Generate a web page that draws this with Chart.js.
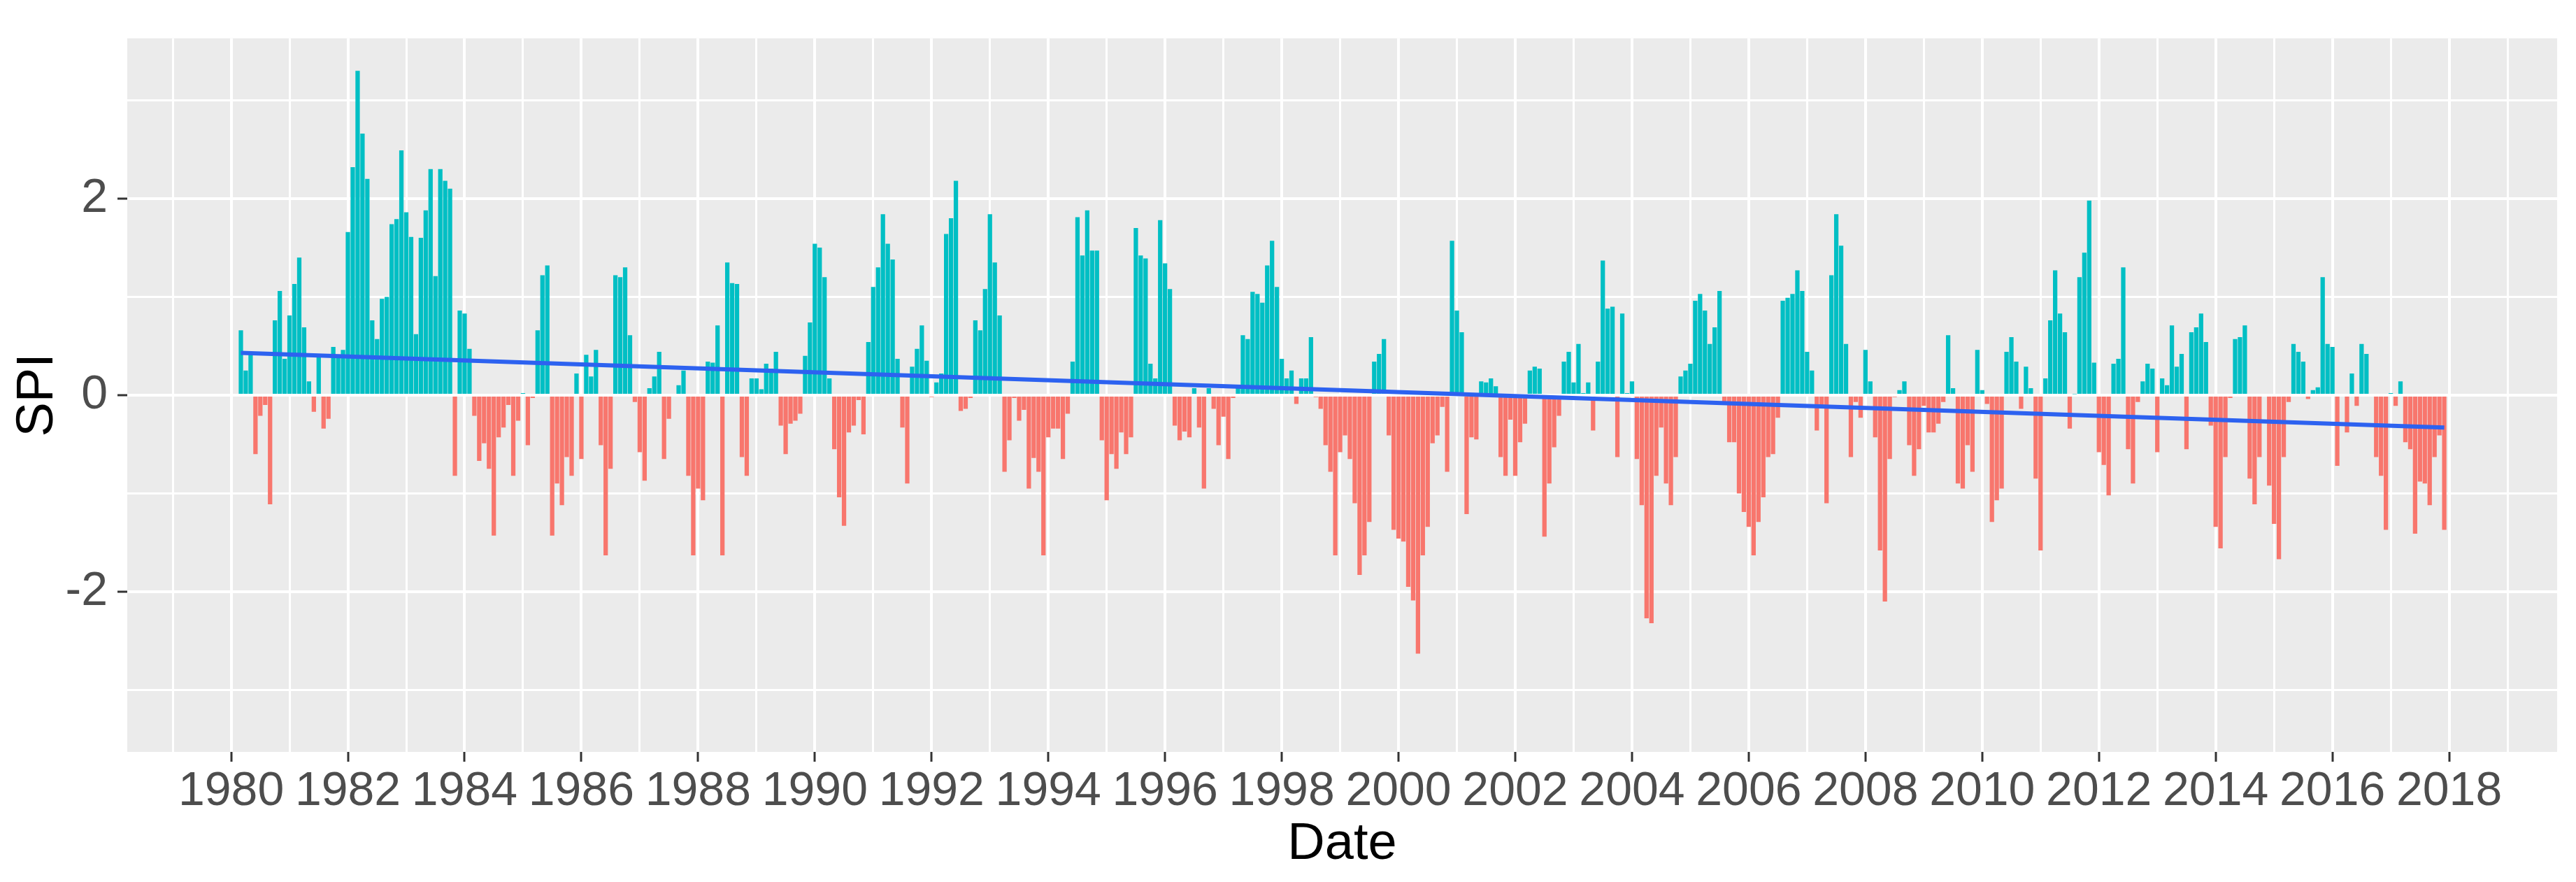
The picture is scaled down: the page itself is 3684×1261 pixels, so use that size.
<!DOCTYPE html>
<html>
<head>
<meta charset="utf-8">
<title>SPI</title>
<script src="https://cdn.jsdelivr.net/npm/chart.js@4.4.1/dist/chart.umd.min.js"></script>
<style>
  html, body { margin: 0; padding: 0; background: #ffffff; }
  canvas { display: block; }
</style>
</head>
<body>
<canvas id="chart" width="3684" height="1261" style="width:3684px;height:1261px"></canvas>
<script>
// monthly SPI, first value is March 1980, last is December 2017
const firstYear = 1980;
const firstMonth = 3;

const spi1980s = [
  0.66, 0.25, 0.44, -0.60, -0.21, -0.10, -1.11, 0.76, 1.06, 0.37,
  0.81, 1.13, 1.40, 0.69, 0.14, -0.17, 0.40, -0.34, -0.24, 0.49, 0.40, 0.46,
  1.66, 2.32, 3.30, 2.66, 2.20, 0.76, 0.57, 0.98, 1.00, 1.74, 1.79, 2.49,
  1.86, 1.61, 0.62, 1.60, 1.88, 2.30, 1.21, 2.30, 2.18, 2.10, -0.82, 0.86,
  0.83, 0.47, -0.21, -0.67, -0.49, -0.75, -1.43, -0.43, -0.33, -0.10, -0.82, -0.26,
  0.02, -0.51, -0.03, 0.66, 1.22, 1.32, -1.43, -0.90, -1.12, -0.63, -0.82, 0.22,
  -0.65, 0.41, 0.19, 0.46, -0.51, -1.63, -0.75, 1.22, 1.20, 1.30, 0.61, -0.07,
  -0.58, -0.87, 0.07, 0.19, 0.44, -0.65, -0.24, 0.00, 0.10, 0.25, -0.82, -1.63,
  -0.95, -1.07, 0.34, 0.33, 0.71, -1.63, 1.35, 1.14, 1.13, -0.63, -0.82, 0.17,
  0.17, 0.06, 0.32, 0.27, 0.44, -0.31, -0.60, -0.29, -0.26, -0.19, 0.40, 0.74
];
const spi1990s = [
  1.54, 1.50, 1.20, 0.17, -0.55, -1.04, -1.33, -0.38, -0.31, -0.05, -0.40, 0.54,
  1.10, 1.30, 1.84, 1.54, 1.38, 0.37, -0.33, -0.90, 0.29, 0.47, 0.71, 0.35,
  -0.02, 0.13, 0.22, 1.64, 1.80, 2.18, -0.16, -0.14, -0.03, 0.76, 0.66, 1.08,
  1.84, 1.35, 0.81, -0.78, -0.46, -0.03, -0.26, -0.15, -0.95, -0.64, -0.78, -1.63,
  -0.43, -0.34, -0.34, -0.65, -0.19, 0.34, 1.81, 1.42, 1.88, 1.47, 1.47, -0.46,
  -1.07, -0.60, -0.75, -0.38, -0.60, -0.43, 1.70, 1.42, 1.39, 0.32, 0.17, 1.78,
  1.34, 1.08, -0.31, -0.46, -0.37, -0.43, 0.07, -0.33, -0.95, 0.07, -0.14, -0.51,
  -0.22, -0.65, -0.03, 0.07, 0.61, 0.57, 1.05, 1.03, 0.94, 1.32, 1.57, 1.10,
  0.37, 0.17, 0.25, -0.09, 0.17, 0.17, 0.59, -0.02, -0.14, -0.51, -0.78, -1.63,
  -0.58, -0.41, -0.65, -1.10, -1.83, -1.63, -1.29, 0.34, 0.42, 0.57, -0.41, -1.37
];
const spi2000s = [
  -1.46, -1.49, -1.95, -2.09, -2.63, -1.63, -1.34, -0.49, -0.41, -0.12, -0.78, 1.57,
  0.86, 0.64, -1.21, -0.43, -0.45, 0.14, 0.13, 0.17, 0.09, -0.63, -0.82, -0.25,
  -0.82, -0.48, -0.29, 0.25, 0.29, 0.27, -1.44, -0.90, -0.53, -0.21, 0.34, 0.44,
  0.13, 0.52, 0.02, 0.13, -0.36, 0.34, 1.37, 0.88, 0.90, -0.63, 0.83, 0.02,
  0.14, -0.65, -1.12, -2.27, -2.32, -0.82, -0.33, -0.90, -1.12, -0.63, 0.19, 0.25,
  0.32, 0.96, 1.03, 0.86, 0.52, 0.69, 1.06, -0.07, -0.48, -0.48, -1.00, -1.19,
  -1.34, -1.63, -1.29, -1.04, -0.63, -0.60, -0.23, 0.96, 0.99, 1.03, 1.27, 1.06,
  0.44, 0.25, -0.36, -0.13, -1.10, 1.22, 1.84, 1.52, 0.52, -0.63, -0.07, -0.23,
  0.46, 0.14, -0.43, -1.58, -2.10, -0.65, -0.02, 0.05, 0.14, -0.51, -0.82, -0.55,
  -0.11, -0.38, -0.38, -0.29, -0.07, 0.61, 0.07, -0.90, -0.95, -0.51, -0.78, 0.46
];
const spi2010s = [
  0.05, -0.09, -1.29, -1.07, -0.95, 0.44, 0.59, 0.34, -0.14, 0.29, 0.07, -0.85,
  -1.58, 0.17, 0.76, 1.27, 0.83, 0.64, -0.34, 0.01, 1.20, 1.45, 1.98, 0.33,
  -0.58, -0.71, -1.02, 0.32, 0.37, 1.30, -0.55, -0.90, -0.07, 0.14, 0.32, 0.27,
  -0.58, 0.17, 0.10, 0.71, 0.29, 0.42, -0.55, 0.64, 0.69, 0.83, 0.54, -0.31,
  -1.34, -1.56, -0.63, -0.03, 0.57, 0.59, 0.71, -0.85, -1.11, -0.63, 0.00, -0.92,
  -1.31, -1.67, -0.63, -0.07, 0.52, 0.44, 0.34, -0.04, 0.05, 0.08, 1.20, 0.52,
  0.49, -0.72, 0.00, -0.38, 0.22, -0.11, 0.52, 0.42, 0.00, -0.63, -0.82, -1.37,
  0.02, -0.11, 0.14, -0.48, -0.55, -1.41, -0.88, -0.90, -1.12, -0.63, -0.41, -1.37
];

// fitted trend at the first and the last month
const trendStart = 0.43;
const trendEnd = -0.33;

// axis ticks
const labelYears = [1980, 1982, 1984, 1986, 1988, 1990, 1992, 1994, 1996, 1998,
  2000, 2002, 2004, 2006, 2008, 2010, 2012, 2014, 2016, 2018];
const minorYears = [1979, 1981, 1983, 1985, 1987, 1989, 1991, 1993, 1995, 1997,
  1999, 2001, 2003, 2005, 2007, 2009, 2011, 2013, 2015, 2017, 2019];
const labelSpi = [-2, 0, 2];
const minorSpi = [-3, -1, 1, 3];

const spi = [].concat(spi1980s, spi1990s, spi2000s, spi2010s);
const points = spi.map((v, i) => ({ x: firstYear + (firstMonth - 1 + i) / 12, y: v }));
const barColors = points.map(p => p.y >= 0 ? '#00BFC4' : '#F8766D');
const trend = [
  { x: points[0].x, y: trendStart },
  { x: points[points.length - 1].x, y: trendEnd }
];

const font = '"Liberation Sans", Arial, sans-serif';

const panelBg = {
  id: 'panelBg',
  beforeDraw(chart) {
    const { ctx, chartArea: a } = chart;
    ctx.save();
    ctx.fillStyle = '#EBEBEB';
    ctx.fillRect(a.left, a.top, a.right - a.left, a.bottom - a.top);
    ctx.restore();
  }
};

const isMajorX = v => labelYears.includes(v);
const isMajorY = v => labelSpi.includes(v);

new Chart(document.getElementById('chart'), {
  type: 'bar',
  data: {
    datasets: [
      {
        type: 'line',
        data: trend,
        borderColor: '#2D62F0',
        borderWidth: 6,
        pointRadius: 0,
        fill: false,
        order: 0
      },
      {
        type: 'bar',
        data: points,
        backgroundColor: barColors,
        borderWidth: 0,
        barPercentage: 0.9,
        categoryPercentage: 1.0,
        order: 1
      }
    ]
  },
  options: {
    responsive: false,
    devicePixelRatio: 1,
    animation: false,
    layout: { padding: { top: 20, right: 27, bottom: 0, left: 0 } },
    plugins: { legend: { display: false }, tooltip: { enabled: false } },
    scales: {
      x: {
        type: 'linear',
        min: 1978.22,
        max: 2019.85,
        offset: false,
        afterBuildTicks: s => { s.ticks = minorYears.concat(labelYears).sort((a, b) => a - b).map(v => ({ value: v })); },
        afterFit: s => { s.height = 186; },
        border: { display: false },
        grid: {
          offset: false,
          color: '#FFFFFF',
          lineWidth: c => isMajorX(c.tick.value) ? 4 : 3,
          tickColor: c => isMajorX(c.tick.value) ? '#333333' : 'rgba(0,0,0,0)',
          tickWidth: 3,
          tickLength: 14
        },
        ticks: {
          autoSkip: false,
          maxRotation: 0,
          padding: 2,
          color: '#4D4D4D',
          font: { family: font, size: 68 },
          callback: v => isMajorX(v) ? String(v) : ''
        },
        title: {
          display: true,
          text: 'Date',
          color: '#000000',
          font: { family: font, size: 74 },
          padding: { top: 0, bottom: 9 }
        }
      },
      y: {
        min: -3.63,
        max: 3.63,
        afterBuildTicks: s => { s.ticks = minorSpi.concat(labelSpi).sort((a, b) => a - b).map(v => ({ value: v })); },
        afterFit: s => { s.width = 182; },
        border: { display: false },
        grid: {
          color: '#FFFFFF',
          lineWidth: c => isMajorY(c.tick.value) ? 4 : 3,
          tickColor: c => isMajorY(c.tick.value) ? '#333333' : 'rgba(0,0,0,0)',
          tickWidth: 3,
          tickLength: 14
        },
        ticks: {
          padding: 14,
          color: '#4D4D4D',
          font: { family: font, size: 68 },
          callback: v => isMajorY(v) ? String(v) : ''
        },
        title: {
          display: true,
          text: 'SPI',
          color: '#000000',
          font: { family: font, size: 74 },
          padding: { top: 10, bottom: 0 }
        }
      }
    }
  },
  plugins: [panelBg]
});
</script>
</body>
</html>
